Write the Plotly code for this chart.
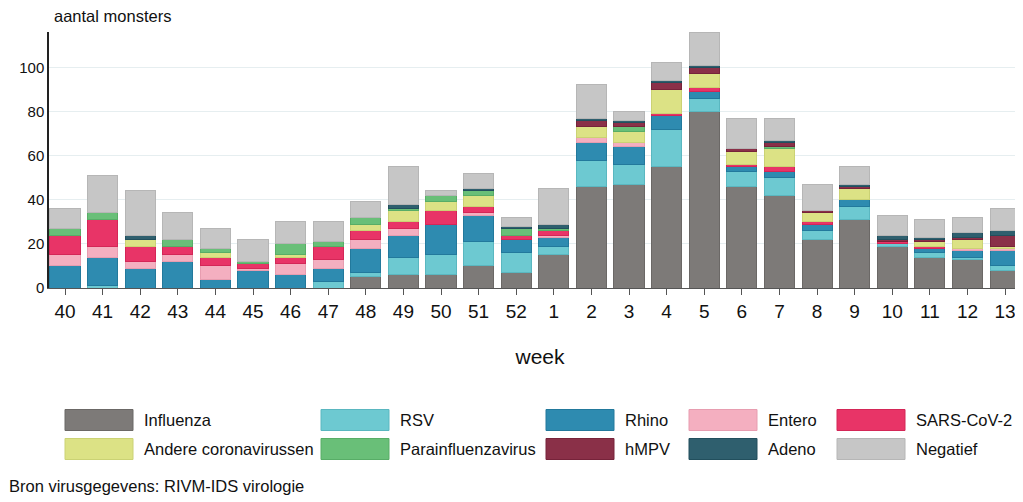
import plotly.graph_objects as go

W, H = 1023, 502

weeks = ['40', '41', '42', '43', '44', '45', '46', '47', '48', '49', '50', '51', '52',
         '1', '2', '3', '4', '5', '6', '7', '8', '9', '10', '11', '12', '13']

influenza = [0, 0, 0, 0, 0, 0, 0, 0, 5, 6, 6, 10, 7, 15, 46, 47, 55, 80, 46, 42, 22, 31, 19, 14, 13, 8]
rsv = [0, 1, 0, 0, 0, 0, 0, 3, 2, 8, 9, 11, 9, 4, 12, 9, 17, 6, 7, 8, 4, 6, 1, 2, 1, 2]
rhino = [10, 13, 9, 12, 4, 8, 6, 6, 11, 10, 14, 12, 6, 4, 8, 8, 6, 3, 2, 3, 3, 3, 0, 2, 3, 7]
entero = [5, 5, 3, 3, 6, 1, 5, 4, 4, 3, 0, 1, 0, 1, 2, 2, 0, 0, 0, 0, 0, 0, 0, 0, 1, 1]
sars = [9, 12, 7, 4, 4, 2, 3, 6, 4, 3, 6, 3, 2, 2, 0, 0, 1, 2, 1, 2, 1, 0, 1, 1, 0, 0]
andere = [0, 0, 3, 0, 2, 0, 1, 0, 3, 5, 4, 5, 0, 0, 5, 5, 11, 6, 6, 8, 4, 5, 0, 2, 4, 1]
para = [3, 3, 0, 3, 2, 1, 5, 2, 3, 1, 3, 2, 3, 1, 0, 2, 0, 0, 0, 1, 0, 0, 0, 0, 0, 0]
hmpv = [0, 0, 0, 0, 0, 0, 0, 0, 0, 0, 0, 0, 0, 0, 3, 2, 3, 3, 1, 2, 1, 1, 1, 1, 1, 5]
adeno = [0, 0, 2, 0, 0, 0, 0, 0, 0, 2, 0, 1, 1, 2, 1, 1, 1, 1, 0, 1, 0, 1, 2, 1, 2, 2]
negatief = [9, 17, 20, 12, 9, 10, 10, 9, 7, 17, 2, 7, 4, 16, 15, 4, 8, 15, 14, 10, 12, 8, 9, 8, 7, 10]

series = [
    ('Influenza', influenza, '#7d7a78', '#6b6866'),
    ('RSV', rsv, '#6dc9d1', '#5ab7c0'),
    ('Rhino', rhino, '#2e8bb0', '#22799c'),
    ('Entero', entero, '#f4afc0', '#e79db0'),
    ('SARS-CoV-2', sars, '#e83467', '#d42657'),
    ('Andere coronavirussen', andere, '#dce285', '#cbd274'),
    ('Parainfluenzavirus', para, '#69bf78', '#58ad67'),
    ('hMPV', hmpv, '#8a3048', '#76233a'),
    ('Adeno', adeno, '#2f5f6e', '#224f5d'),
    ('Negatief', negatief, '#c6c6c6', '#b6b6b6'),
]

fig = go.Figure()
for name, vals, col, edge in series:
    fig.add_trace(go.Bar(x=weeks, y=vals, name=name,
                         marker=dict(color=col, line=dict(color=edge, width=1)),
                         width=0.8, showlegend=False))

# page body adds 8px, so work in screen pixels and shift back
OFF = 8
L, T, B = 49 - OFF, 32 - OFF, 288 - OFF
R = W  # plot runs off the right edge like the original


def px(x):
    return (x - OFF - L) / (R - L)


def py(y):
    return (B - (y - OFF)) / (B - T)


txt = '#111'

# hand-made legend with wide swatches
sw_x = [65, 321, 546, 689, 837]
row_y = [420, 449]
shapes = []
annotations = []
for i, (name, vals, col, edge) in enumerate(series):
    r, c = divmod(i, 5)
    x0 = sw_x[c]
    yc = row_y[r]
    shapes.append(dict(type='rect', xref='paper', yref='paper',
                       x0=px(x0), x1=px(x0 + 68), y0=py(yc + 10.5), y1=py(yc - 10.5),
                       fillcolor=col, line=dict(color=edge, width=1)))
    annotations.append(dict(xref='paper', yref='paper', x=px(x0 + 77), y=py(yc),
                            xanchor='left', yanchor='middle', showarrow=False,
                            text=name, font=dict(size=16.5, color=txt)))

annotations.append(dict(xref='paper', yref='paper', x=px(52), y=py(16),
                        xanchor='left', yanchor='middle', showarrow=False,
                        text='aantal monsters', font=dict(size=16.5, color=txt)))
annotations.append(dict(xref='paper', yref='paper', x=px(7), y=py(486),
                        xanchor='left', yanchor='middle', showarrow=False,
                        text='Bron virusgegevens: RIVM-IDS virologie',
                        font=dict(size=16.5, color=txt)))

fig.update_layout(
    width=W, height=H,
    margin=dict(l=L, r=W - R, t=T, b=H - B),
    barmode='stack', bargap=0.2,
    plot_bgcolor='white', paper_bgcolor='white',
    font=dict(family='Liberation Sans, Arial, sans-serif', color=txt),
    shapes=shapes, annotations=annotations,
    xaxis=dict(type='category', range=[-0.4255, 25.69], showgrid=False,
               showline=True, linecolor='#555', linewidth=1,
               ticks='outside', ticklen=6, tickcolor='#555',
               tickfont=dict(size=19), title=dict(text='week', font=dict(size=21), standoff=28)),
    yaxis=dict(range=[0, 116], tickvals=[0, 20, 40, 60, 80, 100],
               showgrid=True, gridcolor='#e6eef0', zeroline=False,
               showline=True, linecolor='#222', linewidth=1.5,
               tickfont=dict(size=15)),
)

fig.write_html("out.html")
